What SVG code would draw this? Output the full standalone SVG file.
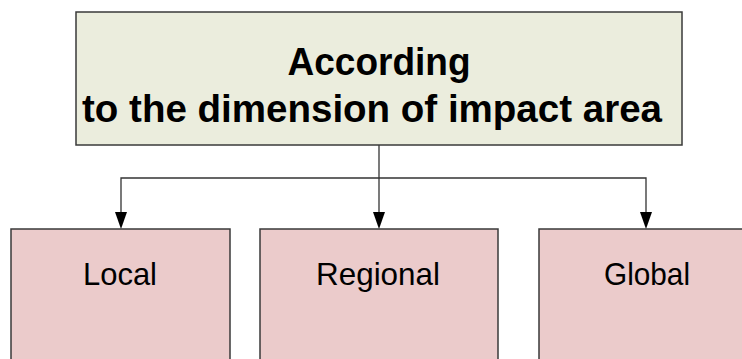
<svg xmlns="http://www.w3.org/2000/svg" width="742" height="359" viewBox="0 0 742 359">
<defs>
<style>
.top{fill:#EBEDDD;stroke:#3a3a3a;stroke-width:1.5}
.leaf{fill:#EBCBCB;stroke:#3a3a3a;stroke-width:1.5}
.title{font-family:"Liberation Sans",Arial,sans-serif;font-weight:bold;font-size:38px;fill:#000;text-anchor:middle}
.lbl{font-family:"Liberation Sans",Arial,sans-serif;font-size:32px;fill:#000;text-anchor:middle}
.conn{fill:none;stroke:#333;stroke-width:1.3}
</style>
</defs>
<rect width="742" height="359" fill="#fff"/>
<g id="connectors">
<line class="conn" x1="379" y1="145" x2="379" y2="212"/>
<polyline class="conn" points="121,212 121,178 646,178 646,212"/>
<path d="M373,212 L385,212 L379,229 Z" fill="#000"/>
<path d="M115,212 L127,212 L121,229 Z" fill="#000"/>
<path d="M640,212 L652,212 L646,229 Z" fill="#000"/>
</g>
<g id="root">
<rect class="top" x="76" y="12" width="606" height="133"/>
<text class="title" x="379" y="75" textLength="183" lengthAdjust="spacingAndGlyphs">According</text>
<text class="title" x="372" y="122" textLength="580" lengthAdjust="spacingAndGlyphs">to the dimension of impact area</text>
</g>
<g id="local">
<rect class="leaf" x="11" y="229" width="219" height="140"/>
<text class="lbl" x="120" y="285" textLength="74" lengthAdjust="spacingAndGlyphs">Local</text>
</g>
<g id="regional">
<rect class="leaf" x="260" y="229" width="238" height="140"/>
<text class="lbl" x="378" y="285" textLength="124" lengthAdjust="spacingAndGlyphs">Regional</text>
</g>
<g id="global">
<rect class="leaf" x="539" y="229" width="220" height="140"/>
<text class="lbl" x="647" y="285" textLength="86" lengthAdjust="spacingAndGlyphs">Global</text>
</g>
</svg>
